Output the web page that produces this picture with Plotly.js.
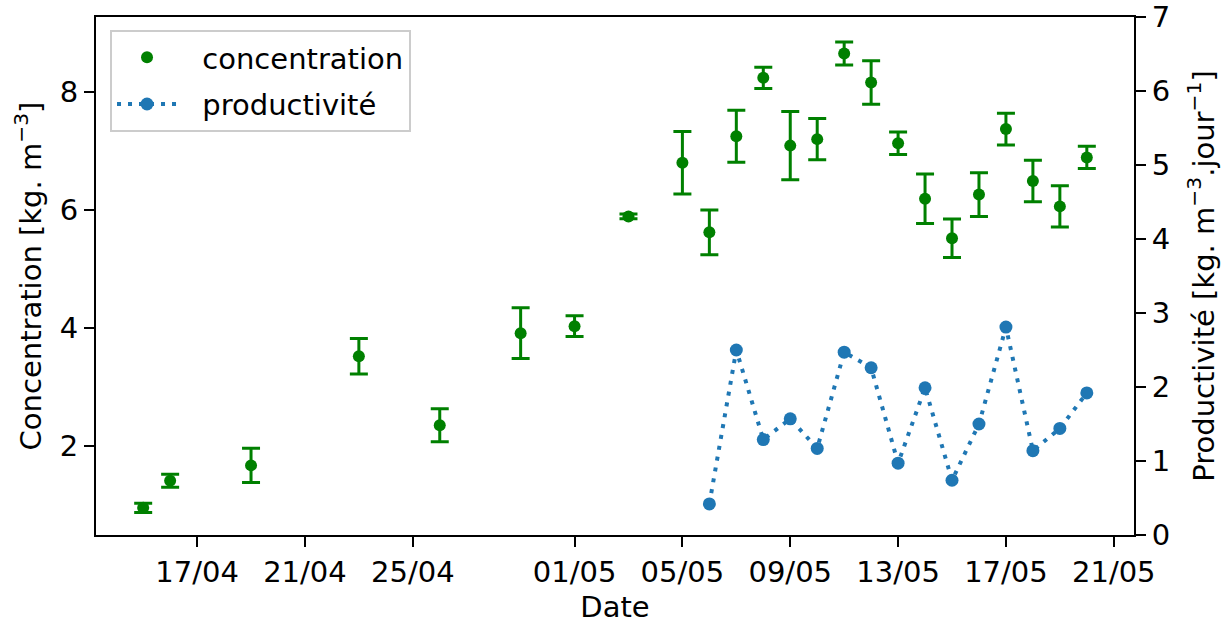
<!DOCTYPE html>
<html>
<head>
<meta charset="utf-8">
<script src="https://cdn.plot.ly/plotly-3.0.1.min.js"></script>
<style>
  html, body { margin: 0; padding: 0; background: #ffffff; }
  #chart { width: 1232px; height: 624px; }
</style>
</head>
<body>
<div id="chart"></div>
<script>
// ---- Data ----
const concDates = ['2021-04-15','2021-04-16','2021-04-19','2021-04-23','2021-04-26','2021-04-29',
                   '2021-05-01','2021-05-03','2021-05-05','2021-05-06','2021-05-07','2021-05-08',
                   '2021-05-09','2021-05-10','2021-05-11','2021-05-12','2021-05-13','2021-05-14',
                   '2021-05-15','2021-05-16','2021-05-17','2021-05-18','2021-05-19','2021-05-20'];
const concValues = [0.95, 1.41, 1.67, 3.52, 2.35, 3.91,
                    4.03, 5.89, 6.80, 5.62, 7.25, 8.24,
                    7.09, 7.20, 8.65, 8.16, 7.13, 6.19,
                    5.52, 6.26, 7.37, 6.49, 6.06, 6.89];
const concErrors = [0.08, 0.11, 0.29, 0.30, 0.28, 0.43,
                    0.175, 0.04, 0.53, 0.38, 0.44, 0.18,
                    0.58, 0.35, 0.195, 0.37, 0.19, 0.42,
                    0.325, 0.37, 0.27, 0.35, 0.35, 0.19];

const prodDates = ['2021-05-06','2021-05-07','2021-05-08','2021-05-09','2021-05-10','2021-05-11',
                   '2021-05-12','2021-05-13','2021-05-14','2021-05-15','2021-05-16','2021-05-17',
                   '2021-05-18','2021-05-19','2021-05-20'];
const prodValues = [0.42, 2.50, 1.29, 1.57, 1.17, 2.47,
                    2.26, 0.97, 1.99, 0.74, 1.50, 2.81,
                    1.14, 1.44, 1.92];

const xTickVals = ['2021-04-17','2021-04-21','2021-04-25','2021-05-01','2021-05-05',
                   '2021-05-09','2021-05-13','2021-05-17','2021-05-21'];
const yTickVals = [2, 4, 6, 8];
const y2TickVals = [0, 1, 2, 3, 4, 5, 6, 7];

const seriesNames = ['concentration', 'productivité'];
const xTitle = 'Date';
const yTitle = 'Concentration [kg. m<sup>−3</sup>]';
const y2Title = 'Productivité [kg. m<sup>−3</sup>.jour<sup>−1</sup>]';

// ---- Styles ----
const FONT = 'DejaVu Sans, Liberation Sans, sans-serif';
const FS = 29;
const GREEN = '#008000';
const BLUE = '#1f77b4';
const LEGEND_PAD = '\u2002\u2009';

const traces = [
  {
    x: concDates, y: concValues, name: LEGEND_PAD + seriesNames[0],
    legendgroup: 'g1',
    type: 'scatter', mode: 'markers', yaxis: 'y',
    marker: { color: GREEN, size: 12 },
    error_y: { type: 'data', array: concErrors, visible: true,
               color: GREEN, thickness: 3, width: 9 }
  },
  {
    x: prodDates, y: prodValues, name: LEGEND_PAD + seriesNames[1],
    legendgroup: 'g2',
    type: 'scatter', mode: 'lines+markers', yaxis: 'y2',
    line: { color: BLUE, width: 4, dash: '4px,7px' },
    marker: { color: BLUE, size: 13 }
  }
];

const axisCommon = {
  showline: true, linecolor: '#000', linewidth: 2,
  ticks: 'outside', ticklen: 10, tickwidth: 2, tickcolor: '#000',
  showgrid: false, zeroline: false,
  tickfont: { family: FONT, size: FS, color: '#000' }
};

const layout = {
  width: 1232, height: 624,
  margin: { l: 96, r: 98, t: 17, b: 89 },
  paper_bgcolor: '#ffffff', plot_bgcolor: '#ffffff',
  font: { family: FONT, size: FS, color: '#000' },
  showlegend: true,
  legend: {
    x: 0.0135, y: 0.975, xanchor: 'left', yanchor: 'top',
    bgcolor: 'rgba(255,255,255,0.8)', bordercolor: '#cccccc', borderwidth: 2,
    font: { family: FONT, size: FS, color: '#000' },
    itemwidth: 60, tracegroupgap: 6
  },
  xaxis: Object.assign({}, axisCommon, {
    type: 'date',
    range: ['2021-04-13 06:00', '2021-05-21 18:00'],
    tickvals: xTickVals, tickformat: '%d/%m',
    mirror: true,
    title: { text: xTitle, font: { family: FONT, size: FS, color: '#000' }, standoff: 12 }
  }),
  yaxis: Object.assign({}, axisCommon, {
    range: [0.49, 9.27],
    tickvals: yTickVals,
    mirror: true,
    title: { text: yTitle, font: { family: FONT, size: FS, color: '#000' }, standoff: 10 }
  }),
  yaxis2: Object.assign({}, axisCommon, {
    overlaying: 'y', side: 'right',
    range: [0, 7],
    tickvals: y2TickVals,
    title: { text: y2Title, font: { family: FONT, size: FS, color: '#000' }, standoff: 24 }
  })
};

Plotly.newPlot('chart', traces, layout, { displayModeBar: false, staticPlot: true });
</script>
</body>
</html>
